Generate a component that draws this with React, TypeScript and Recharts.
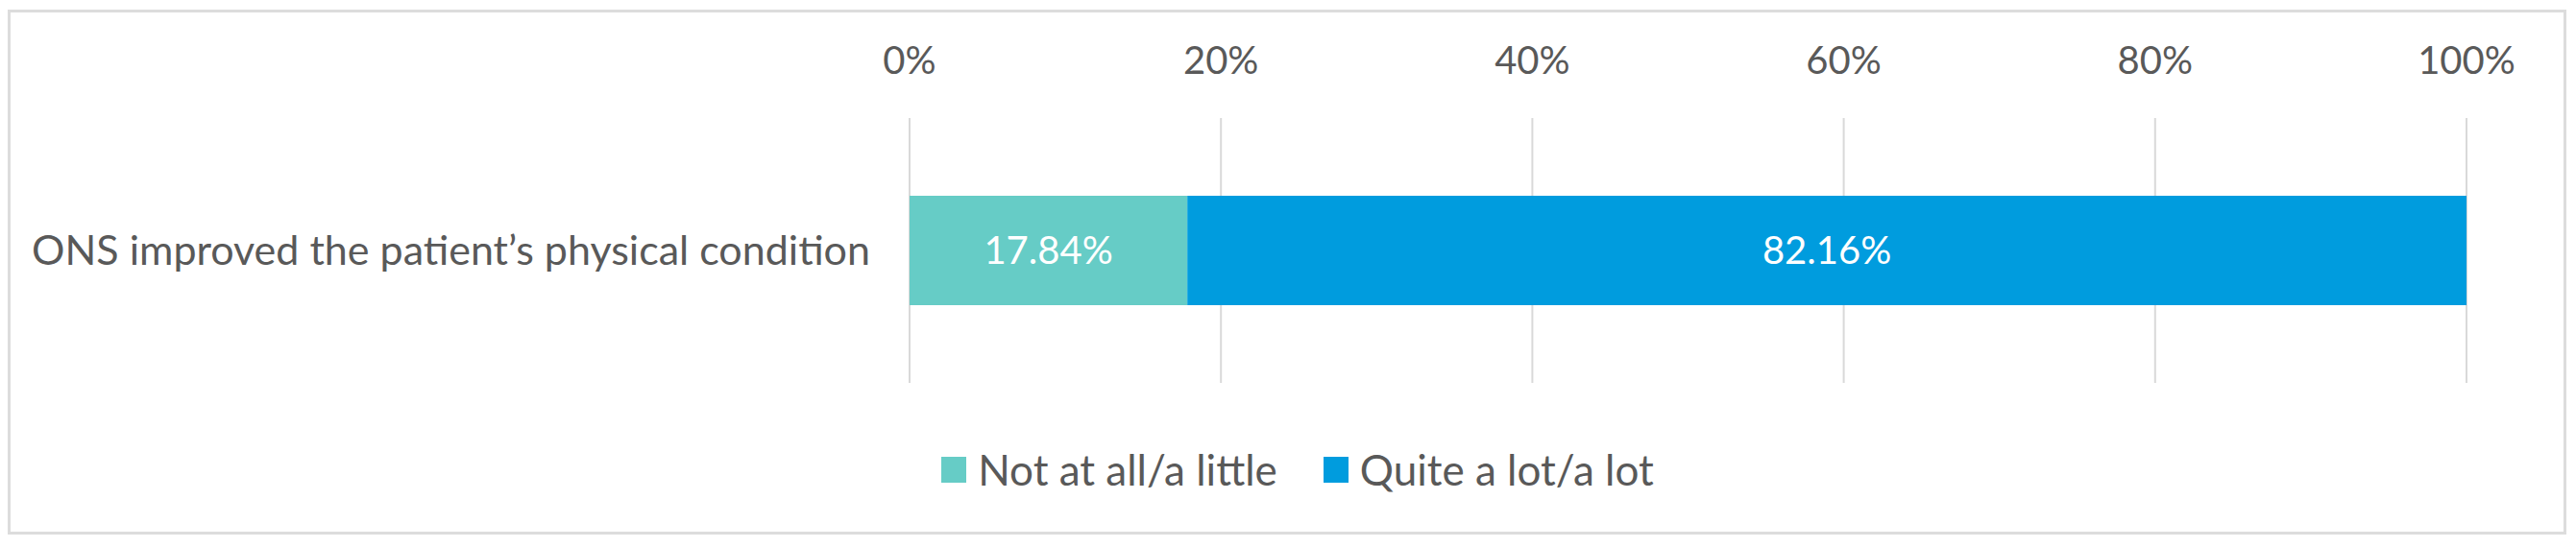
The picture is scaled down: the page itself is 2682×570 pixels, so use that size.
import { Bar, BarChart, CartesianGrid, LabelList, Legend, XAxis, YAxis } from "recharts";

const categories = ["ONS improved the patient’s physical condition"];
const notAtAll = [17.84];
const quiteALot = [82.16];
const xTicks = [0, 20, 40, 60, 80, 100];

const series = [
  { key: "low", name: "Not at all/a little", color: "#66CCC6" },
  { key: "high", name: "Quite a lot/a lot", color: "#009CDE" }
];

const data = categories.map((name, i) => ({
  name,
  low: notAtAll[i],
  high: quiteALot[i]
}));

const FONT = "Lato, 'Open Sans', sans-serif";
const TEXT = "#595959";

const renderLegend = () => (
  <div
    style={{
      display: "flex",
      justifyContent: "center",
      paddingTop: 64,
      paddingLeft: 134,
      height: 52,
      fontFamily: FONT,
      fontSize: 44,
      color: TEXT
    }}
  >
    {series.map((s, i) => (
      <div
        key={s.key}
        style={{ display: "flex", alignItems: "center", marginLeft: i ? 48 : 0 }}
      >
        <span
          style={{
            display: "inline-block",
            width: 26,
            height: 27,
            background: s.color,
            marginRight: 12
          }}
        />
        <span>{s.name}</span>
      </div>
    ))}
  </div>
);

const App = () => {
  return (
    <div style={{ position: "relative", width: 2682, height: 570 }}>
      <style>{`body{margin:0}`}</style>
      <div
        style={{
          position: "absolute",
          left: 8,
          top: 10,
          width: 2664,
          height: 547,
          border: "3px solid #dcdcdc",
          boxSizing: "border-box"
        }}
      />
      <div style={{ position: "absolute", left: 0, top: 0 }}>
        <BarChart
          width={2682}
          height={570}
          data={data}
          layout="vertical"
          barSize={114}
          margin={{ top: 0, right: 114, left: 0, bottom: 55 }}
        >
          <CartesianGrid horizontal={false} stroke="#d9d9d9" strokeWidth={2} />
          <XAxis
            type="number"
            orientation="top"
            domain={[0, 100]}
            ticks={xTicks}
            tickFormatter={(v) => `${v}%`}
            height={123}
            axisLine={false}
            tickLine={false}
            tickSize={0}
            tickMargin={46}
            tick={{ fill: TEXT, fontSize: 40, fontFamily: FONT }}
          />
          <YAxis
            type="category"
            dataKey="name"
            width={947}
            axisLine={false}
            tickLine={false}
            tickSize={0}
            tickMargin={41}
            tick={{ fill: TEXT, fontSize: 43, fontFamily: FONT }}
          />
          <Legend verticalAlign="bottom" content={renderLegend} />
          {series.map((s) => (
            <Bar
              key={s.key}
              dataKey={s.key}
              name={s.name}
              stackId="a"
              fill={s.color}
              isAnimationActive={false}
            >
              <LabelList
                dataKey={s.key}
                position="center"
                formatter={(v) => `${Number(v).toFixed(2)}%`}
                fill="#ffffff"
                fontSize={40}
                fontFamily={FONT}
              />
            </Bar>
          ))}
        </BarChart>
      </div>
    </div>
  );
};

export default App;
